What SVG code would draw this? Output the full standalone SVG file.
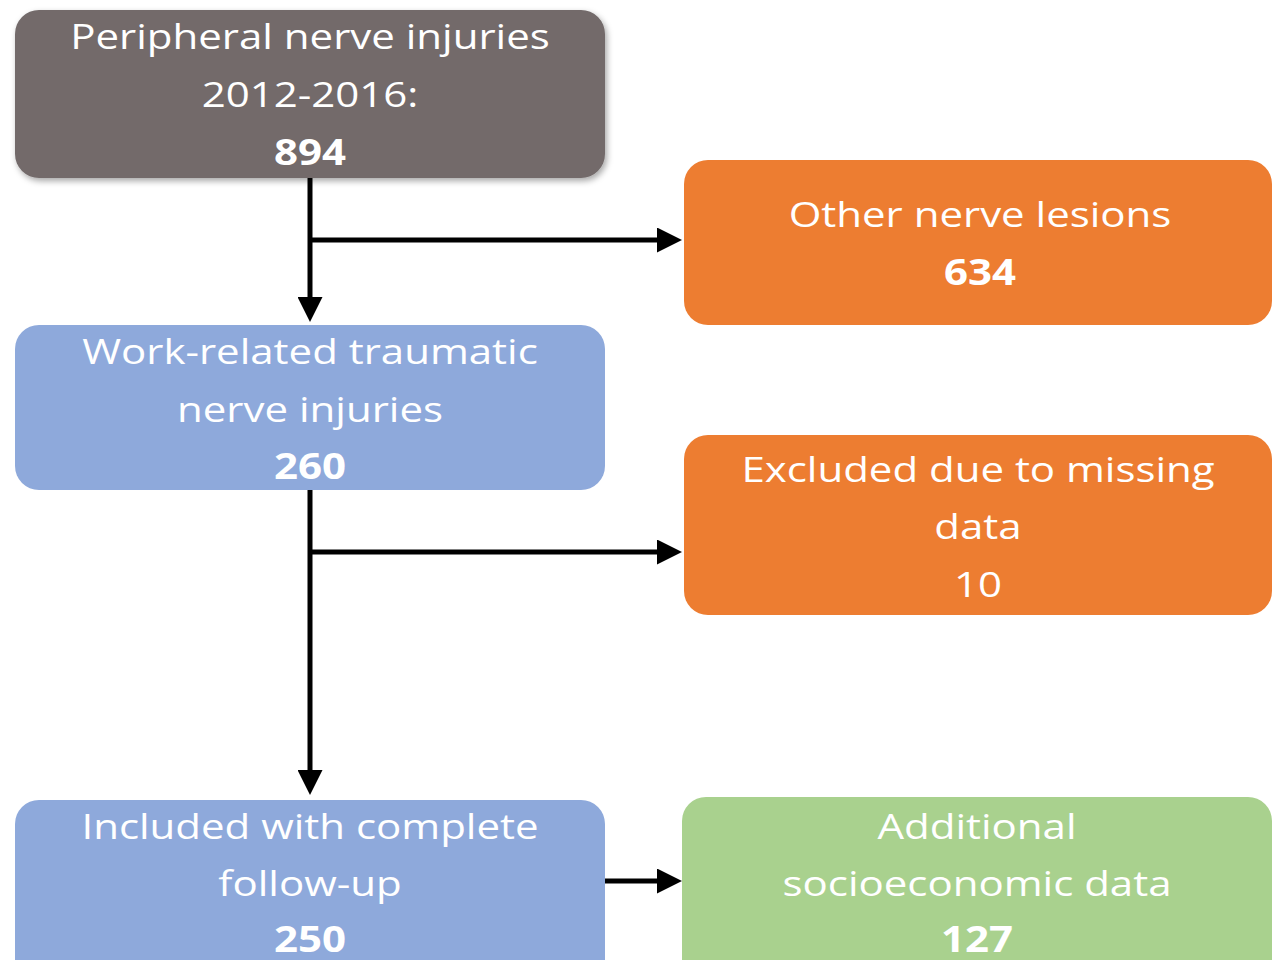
<svg xmlns="http://www.w3.org/2000/svg" width="1277" height="960" viewBox="0 0 1277 960">
<style>
.t{font-family:"Open Sans","Liberation Sans",sans-serif;font-size:35px;fill:#fff;text-anchor:middle}
.b{font-weight:bold}
.c{stroke:#000;stroke-width:5;fill:none}
</style>
<defs>
<marker id="ah" viewBox="0 0 10 10" refX="2" refY="5" markerWidth="5" markerHeight="5" markerUnits="strokeWidth" orient="auto">
<path d="M0,0 L10,5 L0,10 z" fill="#000"/>
</marker>
<filter id="sh" x="-5%" y="-5%" width="110%" height="115%">
<feDropShadow dx="2" dy="3" stdDeviation="3" flood-color="#000" flood-opacity="0.35"/>
</filter>
</defs>
<rect width="1277" height="960" fill="#fff"/>
<g id="connectors">
<path class="c" d="M310,178 V302" marker-end="url(#ah)"/>
<path class="c" d="M310,240 H662" marker-end="url(#ah)"/>
<path class="c" d="M310,490 V775" marker-end="url(#ah)"/>
<path class="c" d="M310,552 H662" marker-end="url(#ah)"/>
<path class="c" d="M605,881 H662" marker-end="url(#ah)"/>
</g>
<g id="n1">
<rect x="15" y="10" width="590" height="168" rx="24" fill="#736B6B" filter="url(#sh)"/>
<g transform="translate(310,0) scale(1.2,1)">
<text class="t" x="0" y="49">Peripheral nerve injuries</text>
<text class="t" x="0" y="107">2012-2016:</text>
<text class="t b" x="0" y="165">894</text>
</g>
</g>
<g id="n2">
<rect x="684" y="160" width="588" height="165" rx="24" fill="#ED7D31"/>
<g transform="translate(980,0) scale(1.2,1)">
<text class="t" x="0" y="227">Other nerve lesions</text>
<text class="t b" x="0" y="285">634</text>
</g>
</g>
<g id="n3">
<rect x="15" y="325" width="590" height="165" rx="24" fill="#8EA9DB"/>
<g transform="translate(310,0) scale(1.2,1)">
<text class="t" x="0" y="364">Work-related traumatic</text>
<text class="t" x="0" y="422">nerve injuries</text>
<text class="t b" x="0" y="479">260</text>
</g>
</g>
<g id="n4">
<rect x="684" y="435" width="588" height="180" rx="24" fill="#ED7D31"/>
<g transform="translate(978,0) scale(1.2,1)">
<text class="t" x="0" y="482">Excluded due to missing</text>
<text class="t" x="0" y="539">data</text>
<text class="t" x="0" y="597">10</text>
</g>
</g>
<g id="n5">
<rect x="15" y="800" width="590" height="190" rx="24" fill="#8EA9DB"/>
<g transform="translate(310,0) scale(1.2,1)">
<text class="t" x="0" y="839">Included with complete</text>
<text class="t" x="0" y="896">follow-up</text>
<text class="t b" x="0" y="952">250</text>
</g>
</g>
<g id="n6">
<rect x="682" y="797" width="590" height="193" rx="24" fill="#A9D18E"/>
<g transform="translate(977,0) scale(1.2,1)">
<text class="t" x="0" y="839">Additional</text>
<text class="t" x="0" y="896">socioeconomic data</text>
<text class="t b" x="0" y="952">127</text>
</g>
</g>
</svg>
